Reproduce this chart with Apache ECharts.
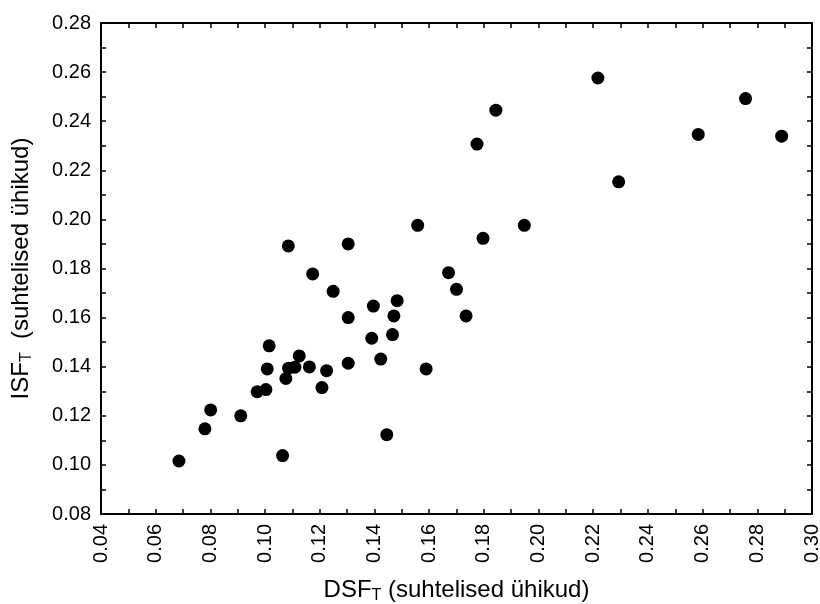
<!DOCTYPE html>
<html>
<head>
<meta charset="utf-8">
<script src="https://cdn.jsdelivr.net/npm/echarts@6/dist/echarts.min.js"></script>
<style>
  html, body { margin: 0; padding: 0; background: #fff; }
  #chart { width: 820px; height: 604px; }
</style>
</head>
<body>
<div id="chart"></div>
<script>
// DSF_T / ISF_T (suhtelised ühikud), loetud pildilt
const dsf = [
  0.0685, 0.0780, 0.0801, 0.0911, 0.0971, 0.1003, 0.1008, 0.1015, 0.1064, 0.1076,
  0.1085, 0.1086, 0.1109, 0.1125, 0.1162, 0.1174, 0.1208, 0.1225, 0.1249, 0.1304,
  0.1304, 0.1304, 0.1390, 0.1396, 0.1423, 0.1445, 0.1466, 0.1471, 0.1483, 0.1558,
  0.1589, 0.1671, 0.1700, 0.1735, 0.1775, 0.1797, 0.1844, 0.1948, 0.2217, 0.2293,
  0.2584, 0.2757, 0.2889
];
const isf = [
  0.1016, 0.1147, 0.1224, 0.1200, 0.1298, 0.1307, 0.1391, 0.1485, 0.1038, 0.1352,
  0.1892, 0.1394, 0.1398, 0.1444, 0.1399, 0.1778, 0.1315, 0.1384, 0.1707, 0.1900,
  0.1600, 0.1414, 0.1516, 0.1647, 0.1431, 0.1123, 0.1531, 0.1607, 0.1669, 0.1976,
  0.1391, 0.1783, 0.1715, 0.1607, 0.2307, 0.1923, 0.2445, 0.1976, 0.2576, 0.2153,
  0.2346, 0.2492, 0.2339
];
const xMin = 0.04, xMax = 0.30, xStep = 0.02;
const yMin = 0.08, yMax = 0.28, yStep = 0.02;

const points = dsf.map((d, i) => [d, isf[i]]);

const font = 'Liberation Sans, Arial, sans-serif';
const lineStyle = { color: '#000', width: 2 };

function frameAxis(min, max, step, extra) {
    return Object.assign({
        type: 'value',
        min: min,
        max: max,
        interval: step,
        axisLine: { show: true, lineStyle: lineStyle },
        axisTick: { show: true, inside: true, length: 5, lineStyle: { color: '#000', width: 1.5 } },
        minorTick: { show: true, splitNumber: 2, length: 5, lineStyle: { color: '#000', width: 1.5 } },
        splitLine: { show: false },
        minorSplitLine: { show: false },
        axisLabel: { show: false }
    }, extra);
}

const nameRich = {
    sub: { fontSize: 16, fontFamily: font, color: '#000', verticalAlign: 'bottom', padding: [11, 0, 0, 0] }
};

var chart = echarts.init(document.getElementById('chart'));
const option = {
    animation: false,
    grid: { left: 101, right: 8, top: 23, bottom: 90, outerBoundsMode: 'none', containLabel: false },
    xAxis: [
        frameAxis(xMin, xMax, xStep, {
            position: 'bottom',
            name: 'DSF{sub|T} (suhtelised ühikud)',
            nameLocation: 'middle',
            nameGap: 63,
            nameTextStyle: { fontSize: 24, fontFamily: font, color: '#000', rich: nameRich },
            axisLabel: {
                show: true, rotate: 90, margin: 10, fontSize: 20, fontFamily: font, color: '#000',
                formatter: v => v.toFixed(2)
            }
        }),
        frameAxis(xMin, xMax, xStep, { position: 'top' })
    ],
    yAxis: [
        frameAxis(yMin, yMax, yStep, {
            position: 'left',
            name: 'ISF{sub|T}  (suhtelised ühikud)',
            nameLocation: 'middle',
            nameGap: 66,
            nameTextStyle: { fontSize: 24, fontFamily: font, color: '#000', rich: nameRich },
            axisLabel: {
                show: true, margin: 10, fontSize: 20, fontFamily: font, color: '#000',
                formatter: v => v.toFixed(2)
            }
        }),
        frameAxis(yMin, yMax, yStep, { position: 'right' })
    ],
    series: [
        {
            type: 'scatter',
            data: points,
            symbol: 'circle',
            symbolSize: 13,
            itemStyle: { color: '#000', opacity: 1 }
        }
    ]
};
chart.setOption(option);
</script>
</body>
</html>
